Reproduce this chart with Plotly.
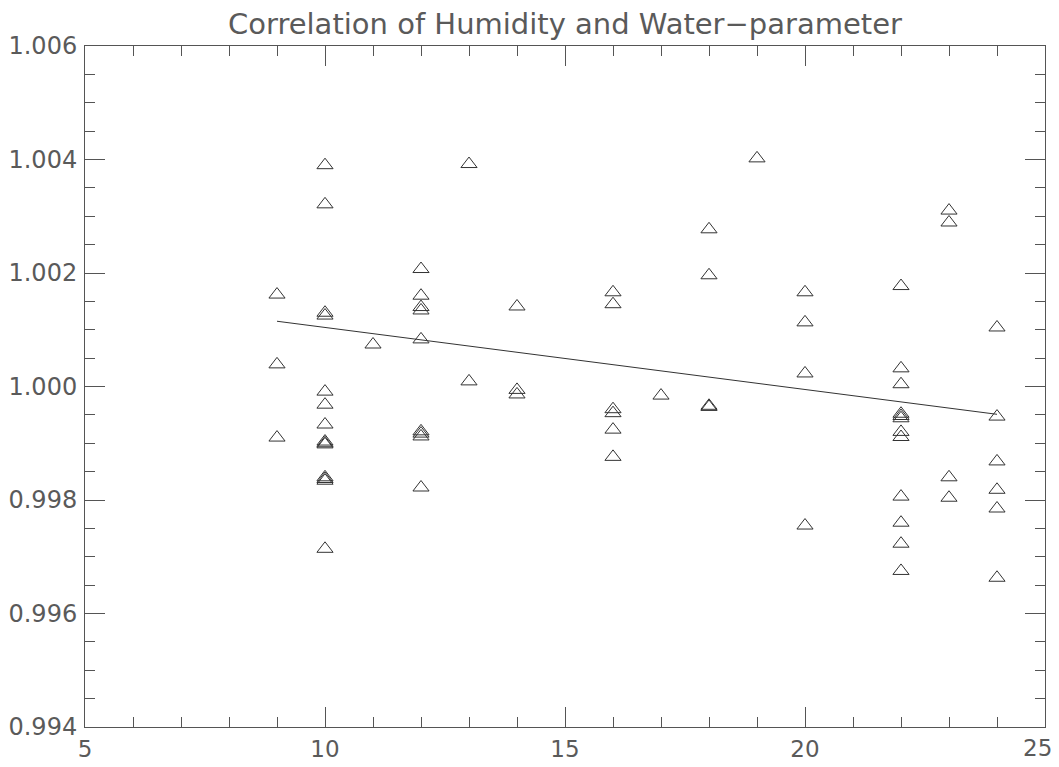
import plotly.graph_objects as go

humidity = [
    9, 9, 9,
    10, 10, 10, 10, 10, 10, 10, 10, 10, 10, 10, 10, 10, 10,
    11,
    12, 12, 12, 12, 12, 12, 12, 12, 12,
    13, 13,
    14, 14, 14,
    16, 16, 16, 16, 16, 16,
    17,
    18, 18, 18, 18,
    19,
    20, 20, 20, 20,
    22, 22, 22, 22, 22, 22, 22, 22, 22, 22, 22, 22,
    23, 23, 23, 23,
    24, 24, 24, 24, 24, 24,
]
water_param = [
    1.00162, 1.00039, 0.99910,
    1.00390, 1.00321, 1.00130, 1.00125, 0.99991, 0.99968, 0.99933, 0.99903,
    0.99900, 0.99898, 0.99840, 0.99837, 0.99834, 0.99714,
    1.00074,
    1.00207, 1.00160, 1.00140, 1.00134, 1.00083, 0.99921, 0.99917, 0.99912, 0.99822,
    1.00392, 1.00009,
    1.00141, 0.99994, 0.99986,
    1.00166, 1.00145, 0.99960, 0.99953, 0.99924, 0.99876,
    0.99984,
    1.00277, 1.00196, 0.99966, 0.99964,
    1.00402,
    1.00166, 1.00113, 1.00023, 0.99755,
    1.00177, 1.00032, 1.00004, 0.99952, 0.99948, 0.99944, 0.99920, 0.99911,
    0.99806, 0.99760, 0.99723, 0.99675,
    1.00310, 1.00289, 0.99840, 0.99804,
    1.00104, 0.99947, 0.99868, 0.99818, 0.99785, 0.99663,
]

# Linear fit line endpoints
fit_x = [9, 24]
fit_y = [1.00115, 0.99951]

title_text = "Correlation of Humidity and Water\u2212parameter"
x_ticks = [5, 10, 15, 20, 25]
x_labels = ["5", "10", "15", "20", "25"]
y_ticks = [0.994, 0.996, 0.998, 1.000, 1.002, 1.004, 1.006]

FONT = "DejaVu Sans"
TXT = "#5a5a5a"
AX = "#555555"

fig = go.Figure()
fig.add_trace(go.Scatter(
    x=humidity, y=water_param, mode="markers",
    marker=dict(symbol="triangle-up-open", size=14, color="#333333",
                line=dict(width=1, color="#333333")),
    showlegend=False, hoverinfo="x+y",
))
fig.add_trace(go.Scatter(
    x=fit_x, y=fit_y, mode="lines",
    line=dict(color="#333333", width=1),
    showlegend=False,
))

axis_common = dict(
    showgrid=False, zeroline=False, showline=True, linecolor=AX, linewidth=1,
    mirror="ticks", ticks="inside", ticklen=20, tickwidth=1, tickcolor=AX,
    automargin=False, ticklabeloverflow="allow",
)

# last x label drawn as an annotation nudged inward so it stays inside the page
x_ticktext = x_labels[:-1] + [""]

fig.update_layout(
    width=1059, height=767,
    margin=dict(l=85, r=14, t=46, b=40),
    paper_bgcolor="white", plot_bgcolor="white",
    title=dict(text=title_text, x=(85 + 1045) / 2 / 1059, xanchor="center",
               y=1 - 24 / 767, yanchor="middle",
               font=dict(family=FONT, size=29, color=TXT)),
    xaxis=dict(range=[5, 25], tickvals=x_ticks, ticktext=x_ticktext,
               minor=dict(dtick=1, tick0=5, ticks="inside", ticklen=10, tickcolor=AX, tickwidth=1),
               ticklabelstandoff=1,
               tickfont=dict(family=FONT, size=23, color=TXT),
               **axis_common),
    yaxis=dict(range=[0.994, 1.006], tickvals=y_ticks, ticktext=[f"{v:.3f}" for v in y_ticks],
               minor=dict(dtick=0.0005, tick0=0.994, ticks="inside", ticklen=10, tickcolor=AX, tickwidth=1),
               ticklabelstandoff=2,
               tickfont=dict(family=FONT, size=24, color=TXT),
               **axis_common),
    annotations=[dict(
        x=x_ticks[-1], xref="x", y=0, yref="paper",
        text=x_labels[-1], showarrow=False,
        xanchor="center", yanchor="middle", xshift=-8, yshift=-21,
        font=dict(family=FONT, size=23, color=TXT),
    )],
)

fig.write_html("out.html")
